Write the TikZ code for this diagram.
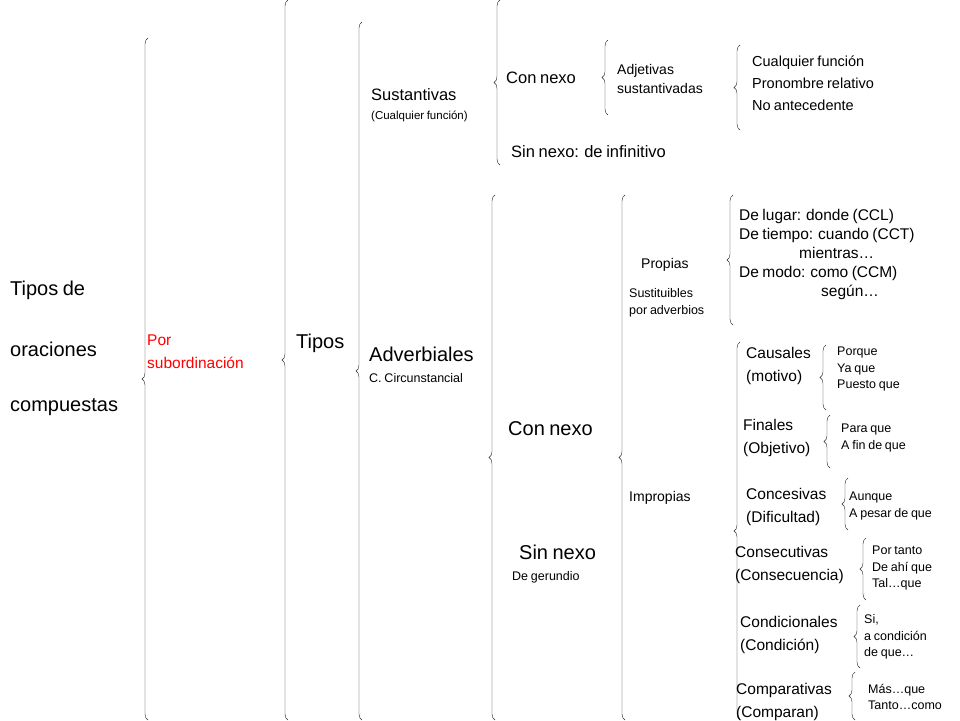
\documentclass[tikz,border=0pt]{standalone}
\usepackage{fontspec}
\setmainfont{Liberation Sans}[WordSpace=0.8]
\usetikzlibrary{decorations.pathreplacing}
\tikzset{
  llave/.style={decorate, decoration={brace, amplitude=6pt}, draw=black!85, thin},
  grande/.style={anchor=west, inner sep=0pt, font=\fontsize{20}{24}\selectfont},
  medio/.style={anchor=west, inner sep=0pt, font=\fontsize{16.5}{20}\selectfont},
  texto/.style={anchor=west, inner sep=0pt, align=left, font=\fontsize{15.5}{23}\selectfont},
  chico/.style={anchor=west, inner sep=0pt, align=left, font=\fontsize{14}{18.5}\selectfont},
  mini/.style={anchor=west, inner sep=0pt, align=left, font=\fontsize{11.5}{13}\selectfont},
  lista/.style={anchor=west, inner sep=0pt, align=left, font=\fontsize{12.5}{16.5}\selectfont}
}
\begin{document}
\begin{tikzpicture}[x=1pt, y=-1pt]
  \useasboundingbox[fill=white] (0,0) rectangle (960,720);
  % Llaves
  \foreach \x/\a/\b in {148/38/720, 288/0/720, 362/22/720, 500/0/165, 608/40/115,
      740/45/130, 495/195/720, 625/195/720, 733/195/325, 740/342/720,
      826/345/410, 830/415/468, 848/478/530, 866/538/600, 860/605/668, 855/672/720} {
    \draw[llave] (\x,\b) -- (\x,\a);
  }
  % Columna 1
  \node[grande] (tipos) at (10,290) {Tipos de};
  \node[grande] (oraciones) at (10,349) {oraciones};
  \node[grande] (compuestas) at (10,407) {compuestas};
  \node[texto, text=red] (por) at (147,352) {Por\\subordinación};
  \node[grande] (tiposb) at (296,343) {Tipos};
  % Sustantivas
  \node[medio] (sust) at (371,95) {Sustantivas};
  \node[mini] (sustc) at (371,116) {(Cualquier función)};
  \node[medio] (connexo) at (506,78) {Con nexo};
  \node[chico] (adj) at (617,79) {Adjetivas\\sustantivadas};
  \node[chico, font=\fontsize{14.5}{22}\selectfont] (cual) at (752,83) {Cualquier función\\Pronombre relativo\\No antecedente};
  \node[medio] (sinnexo) at (511,152) {Sin nexo: de infinitivo};
  % Adverbiales
  \node[grande] (adv) at (369,354) {Adverbiales};
  \node[mini, font=\fontsize{12.5}{15}\selectfont] (advc) at (369,378) {C. Circunstancial};
  \node[grande] (connexob) at (508,429) {Con nexo};
  \node[grande] (sinnexob) at (519,552) {Sin nexo};
  \node[mini, font=\fontsize{12.5}{15}\selectfont] (ger) at (512,577) {De gerundio};
  \node[chico] (prop) at (641,265) {Propias};
  \node[lista] (susti) at (629,303) {Sustituibles\\por adverbios};
  \node[chico] (impr) at (629,498) {Impropias};
  \node[texto, font=\fontsize{15.5}{19}\selectfont] (lugar) at (739,254)
    {De lugar: donde (CCL)\\De tiempo: cuando (CCT)\\\hspace{60pt}mientras\ldots\\De modo: como (CCM)\\\hspace{82pt}según\ldots};
  \node[texto] (caus) at (746,366) {Causales\\(motivo)};
  \node[lista] (porque) at (837,369) {Porque\\Ya que\\Puesto que};
  \node[texto] (fin) at (743,438) {Finales\\(Objetivo)};
  \node[lista] (para) at (841,438) {Para que\\A fin de que};
  \node[texto] (conc) at (746,507) {Concesivas\\(Dificultad)};
  \node[lista] (aunque) at (849,506) {Aunque\\A pesar de que};
  \node[texto] (cons) at (735,565) {Consecutivas\\(Consecuencia)};
  \node[lista] (portanto) at (872,568) {Por tanto\\De ahí que\\Tal\ldots que};
  \node[texto] (cond) at (740,635) {Condicionales\\(Condición)};
  \node[lista] (si) at (864,637) {Si,\\a condición\\de que\ldots};
  \node[texto] (comp) at (736,702) {Comparativas\\(Comparan)};
  \node[lista] (mas) at (868,697) {Más\ldots que\\Tanto\ldots como};
\end{tikzpicture}
\end{document}
